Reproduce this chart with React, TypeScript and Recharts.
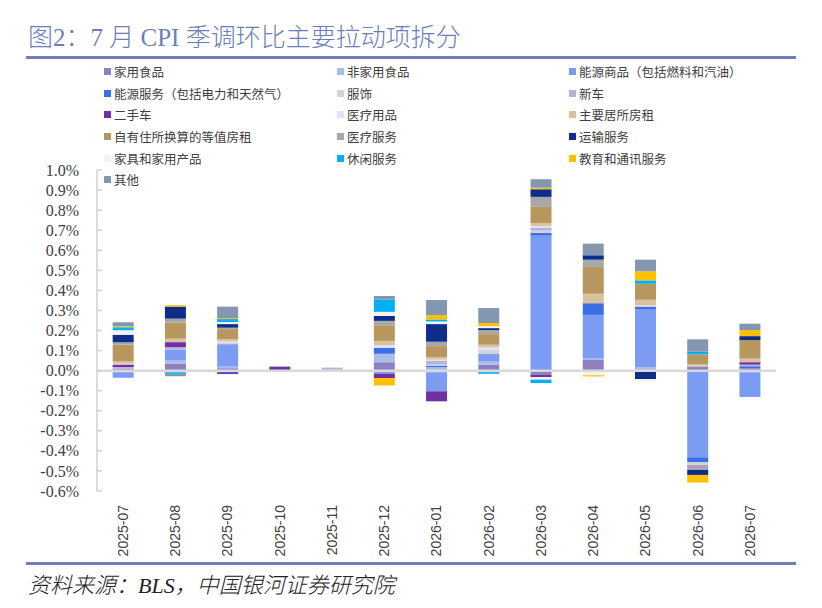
import React from "react";
import { BarChart, Bar, XAxis, YAxis, ReferenceLine, Legend } from "recharts";

const categories = [
  "2025-07", "2025-08", "2025-09", "2025-10", "2025-11", "2025-12",
  "2026-01", "2026-02", "2026-03", "2026-04", "2026-05", "2026-06", "2026-07",
];

const yTicks = [-0.6, -0.5, -0.4, -0.3, -0.2, -0.1, 0, 0.1, 0.2, 0.3, 0.4, 0.5, 0.6, 0.7, 0.8, 0.9, 1.0];

// values in percentage points
const foodAtHome = [0.01, 0.035, 0.012, 0, 0, 0.042, -0.008, 0.03, -0.02, 0.053, 0, 0.02, 0.012];
const foodAway = [-0.008, 0.018, 0.008, 0, 0, 0.042, 0.017, 0.015, 0, 0.008, 0.017, 0, -0.008];
const energyGoods = [-0.028, 0.052, 0.112, 0, 0, -0.015, -0.095, 0.038, 0.673, 0.217, 0.287, -0.432, -0.123];
const energyServices = [0, 0, -0.012, 0, 0, 0.03, 0.008, 0, 0.013, 0.058, 0.013, -0.025, 0.01];
const apparel = [0, 0, 0.008, 0, 0, 0, 0.005, 0.02, 0.012, 0, 0.005, -0.012, 0];
const newCars = [0.008, 0.012, 0, 0, 0.015, 0, 0.02, 0, 0.013, 0, 0, -0.005, 0.008];
const usedCars = [0.013, 0.025, -0.005, 0.02, 0, -0.022, -0.05, -0.008, -0.012, 0, 0, -0.004, 0.012];
const medicalGoods = [0.003, 0, 0.005, 0, 0, 0.012, 0.005, 0.013, 0.01, -0.008, 0.003, 0, 0];
const rent = [0.012, 0.017, 0.012, 0, 0, 0.022, 0.012, 0.013, 0.015, 0.047, 0.028, 0.013, 0.018];
const oer = [0.083, 0.08, 0.05, 0, 0, 0.078, 0.055, 0.053, 0.08, 0.133, 0.08, 0.048, 0.092];
const medicalServices = [0.012, 0.02, 0.007, 0, 0, 0.022, 0.022, 0.02, 0.05, 0.037, 0, -0.017, 0];
const transportation = [0.038, 0.06, 0.018, 0, 0, 0.025, 0.088, 0.01, 0.038, 0.022, -0.042, -0.025, 0.02];
const household = [0.022, -0.008, 0.01, 0, 0, 0.02, 0.013, 0.01, -0.013, -0.015, -0.01, 0, 0];
const recreation = [0.015, -0.008, 0.015, 0, 0, 0.062, 0.01, -0.008, -0.017, 0, 0.017, 0.013, 0];
const education = [0.005, 0.007, 0.005, 0, 0, -0.037, 0.022, 0.015, 0.008, -0.006, 0.045, -0.038, 0.03];
const others = [0.02, -0.012, 0.057, 0, 0, 0.017, 0.075, 0.075, 0.042, 0.058, 0.058, 0.062, 0.032];

const seriesNames = [
  "家用食品", "非家用食品", "能源商品（包括燃料和汽油）",
  "能源服务（包括电力和天然气）", "服饰", "新车",
  "二手车", "医疗用品", "主要居所房租",
  "自有住所换算的等值房租", "医疗服务", "运输服务",
  "家具和家用产品", "休闲服务", "教育和通讯服务",
  "其他",
];

const seriesColors = [
  "#8c80c0", "#a9bde8", "#7b9cf2",
  "#3c6ee6", "#d4d4d4", "#b9b1dd",
  "#7030a0", "#dde4f5", "#d9c2a0",
  "#b8975f", "#a8a8a8", "#0c2e8a",
  "#f2f2f2", "#00b0f0", "#ffc000",
  "#8497b0",
];

const seriesValues = [
  foodAtHome, foodAway, energyGoods, energyServices, apparel, newCars,
  usedCars, medicalGoods, rent, oer, medicalServices, transportation,
  household, recreation, education, others,
];

const data = categories.map((month, i) => {
  const row: Record<string, number | string> = { month };
  seriesValues.forEach((arr, k) => {
    row["s" + k] = arr[i];
  });
  return row;
});

const YTick = (props: any) => {
  const { x, y, payload } = props;
  return (
    <g>
      <line x1={x + 18} x2={x + 23} y1={y} y2={y} stroke="#d0d0d0" strokeWidth={1.5} />
      <text
        x={x}
        y={y}
        dy="0.35em"
        textAnchor="end"
        fill="#404040"
        fontSize={16}
        fontFamily="'Liberation Serif', serif"
      >
        {`${Number(payload.value).toFixed(1)}%`}
      </text>
    </g>
  );
};

const XTick = (props: any) => {
  const { x, y, payload } = props;
  return (
    <text
      x={x}
      y={y}
      dy="0.35em"
      textAnchor="end"
      transform={`rotate(-90, ${x}, ${y})`}
      fill="#404040"
      fontSize={14}
      fontFamily="'Liberation Sans', sans-serif"
    >
      {payload.value}
    </text>
  );
};

const LegendContent = (props: any) => {
  const items = [...(props.payload || [])].sort(
    (a: any, b: any) => seriesNames.indexOf(a.value) - seriesNames.indexOf(b.value)
  );
  const cols = [233, 232, 220];
  return (
    <div style={{ display: "grid", gridTemplateColumns: cols.map((c) => c + "px").join(" ") }}>
      {items.map((item: any, i: number) => (
        <div
          key={i}
          style={{
            height: 21.6,
            display: "flex",
            alignItems: "center",
            fontSize: 12.5,
            color: "#404040",
            fontFamily: "'Liberation Serif', 'Noto Sans CJK SC', serif",
            whiteSpace: "nowrap",
          }}
        >
          <span
            style={{
              display: "inline-block",
              width: 7,
              height: 7,
              background: item.color,
              marginRight: 3,
            }}
          />
          {item.value}
        </div>
      ))}
    </div>
  );
};

export default function App() {
  return (
    <div
      style={{
        position: "fixed",
        left: 0,
        top: 0,
        width: 822,
        height: 608,
        background: "#ffffff",
        overflow: "hidden",
      }}
    >
      <div
        style={{
          position: "absolute",
          left: 28,
          top: 25,
          fontSize: 25,
          lineHeight: "25px",
          color: "#6a7fb8",
          fontFamily: "'Liberation Serif', 'Noto Sans CJK SC', serif",
          fontWeight: 300,
          whiteSpace: "nowrap",
        }}
      >
        图2：7 月 CPI 季调环比主要拉动项拆分
      </div>
      <div style={{ position: "absolute", left: 26, top: 56, width: 770, height: 3, background: "#6d81b8" }} />
      <div style={{ position: "absolute", left: 0, top: 0 }}>
        <BarChart
          width={822}
          height={608}
          data={data}
          stackOffset="sign"
          barCategoryGap="30%"
          margin={{ top: 170, right: 46, bottom: 42, left: 0 }}
        >
          <XAxis
            dataKey="month"
            axisLine={false}
            tickLine={false}
            tickSize={0}
            tickMargin={14}
            interval={0}
            height={75}
            tick={<XTick />}
          />
          <YAxis
            domain={[-0.6, 1.0]}
            ticks={yTicks}
            interval={0}
            width={97}
            tickLine={false}
            tickSize={0}
            tickMargin={18}
            axisLine={{ stroke: "#d0d0d0", strokeWidth: 1.5 }}
            tick={<YTick />}
            allowDataOverflow
          />
          <Legend
            layout="horizontal"
            verticalAlign="middle"
            align="center"
            content={<LegendContent />}
            wrapperStyle={{ position: "absolute", top: 61, left: 104, width: 700, height: 130 }}
          />
          {seriesNames.map((name, k) => (
            <Bar
              key={k}
              dataKey={"s" + k}
              name={name}
              stackId="cpi"
              fill={seriesColors[k]}
              isAnimationActive={false}
              legendType="square"
            />
          ))}
          <ReferenceLine y={0} stroke="#d9d9d9" strokeWidth={2.5} />
        </BarChart>
      </div>
      <div style={{ position: "absolute", left: 26, top: 562, width: 770, height: 3, background: "#6d81b8" }} />
      <div
        style={{
          position: "absolute",
          left: 28,
          top: 574,
          fontSize: 22,
          lineHeight: "24px",
          color: "#222222",
          fontStyle: "italic",
          fontFamily: "'Liberation Serif', 'Noto Sans CJK SC', serif",
          fontWeight: 300,
          whiteSpace: "nowrap",
        }}
      >
        资料来源：BLS，中国银河证券研究院
      </div>
    </div>
  );
}
